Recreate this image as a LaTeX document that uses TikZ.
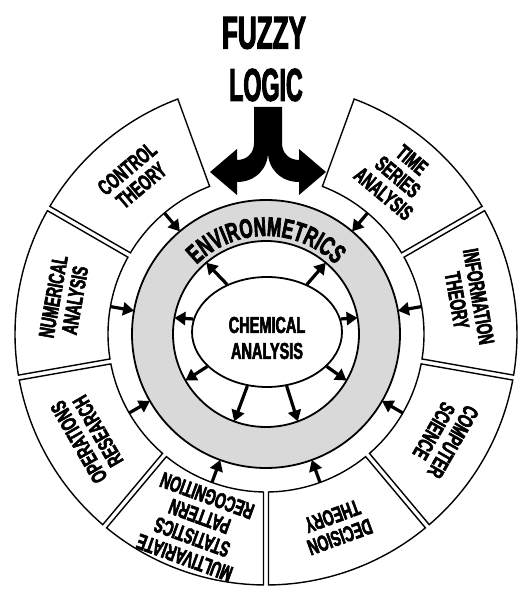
\documentclass[tikz,border=0pt]{standalone}
\usepackage{fontspec}
\usepackage{graphicx}
\usetikzlibrary{arrows.meta,shapes.geometric,calc,decorations.text}
\newfontfamily\condfont[FakeStretch=0.63,FakeBold=2.5]{Liberation Sans}
\definecolor{ringgray}{RGB}{217,217,217}
\begin{document}
\begin{tikzpicture}[x=1pt,y=1pt,
  boxshape/.style={draw=black, line width=1.4pt, fill=white},
  lbl/.style={font=\condfont\bfseries\fontsize{22}{22}\selectfont, align=center, inner sep=0pt},
  flow/.style={line width=3.2pt, -{Triangle[length=11pt,width=13pt]}},
  ringline/.style={draw=black, line width=1.8pt, circle, inner sep=0pt, outer sep=0pt},
  bigtitle/.style={font=\condfont\bfseries\fontsize{46}{46}\selectfont, inner sep=0pt},
]
\useasboundingbox (0,0) rectangle (521,589);
\coordinate (C) at (266,255);

% outer boxes
\foreach \a/\t [count=\i] in {110/{CONTROL\\THEORY},150/{NUMERICAL\\ANALYSIS},190/{OPERATIONS\\RESEARCH},230/{MULTIVARIATE\\STATISTICS\\PATTERN\\RECOGNITION},270/{DECISION\\THEORY},310/{COMPUTER\\SCIENCE},350/{INFORMATION\\THEORY},390/{TIME\\SERIES\\ANALYSIS}}{
  \pgfmathsetmacro\m{\a+20}
  \draw[boxshape] ($(C)+(\a+0.57:251)$) arc[start angle=\a+0.57, end angle=\a+39.43, radius=251]
     -- ($(C)+(\a+39.09:158)$) arc[start angle=\a+39.09, end angle=\a+0.91, radius=158] -- cycle;
  \node[lbl, rotate=\m-90] (lab\i) at ($(C)+(\m:205)$) {\t};
  \coordinate (bin\i) at ($(C)+(\m:158)$);
}

% gray ring
\fill[ringgray, even odd rule] (C) circle[radius=134] (C) circle[radius=93];
\node[ringline, minimum size=268pt] (ringout) at (C) {};
\node[ringline, minimum size=186pt] (ringin) at (C) {};

% inner ellipse
\node[ellipse, draw, line width=1.8pt, minimum width=150pt, minimum height=110pt, inner sep=0pt, fill=white] (chem) at ($(C)+(1,2)$) {};
\node[font=\condfont\bfseries\fontsize{23}{26}\selectfont, align=center, inner sep=0pt] (chemtxt) at ($(C)+(1,-4)$) {CHEMICAL\\ANALYSIS};

% environmetrics label
\path[decorate, decoration={text along path, text align=center,
  text={|\condfont\bfseries\fontsize{27}{27}\selectfont|ENVIRONMETRICS}}]
  ($(C)+(150:98)$) arc[start angle=150, end angle=30, radius=98];

% arrows from boxes to ring
\foreach \i/\m in {1/130,2/170,3/210,4/250,5/290,6/330,7/10,8/50}{
  \draw[flow] (bin\i) -- (ringout.\m);
}
% arrows from chemical analysis to ring
\foreach \a in {10,50,130,170,210,250,290,330}{
  \draw[flow] (chem.\a) -- (ringin.\a);
}

% fuzzy logic
\node[bigtitle] (fuzzy) at (264,556) {\scalebox{0.9}[1]{FUZZY}};
\node[bigtitle] (logic) at (266,504) {\scalebox{0.8}[1]{LOGIC}};
\fill[black] (254,482) -- (254,446) .. controls (254,436) and (247,429) .. (237,429)
  -- (237,440) -- (210,417) -- (237,394) -- (237,407)
  .. controls (255,407) and (268,420) .. (268,437)
  .. controls (268,420) and (281,407) .. (299,407)
  -- (299,394) -- (326,417) -- (299,440) -- (299,429)
  .. controls (289,429) and (282,436) .. (282,446) -- (282,482) -- cycle;
\end{tikzpicture}
\end{document}
